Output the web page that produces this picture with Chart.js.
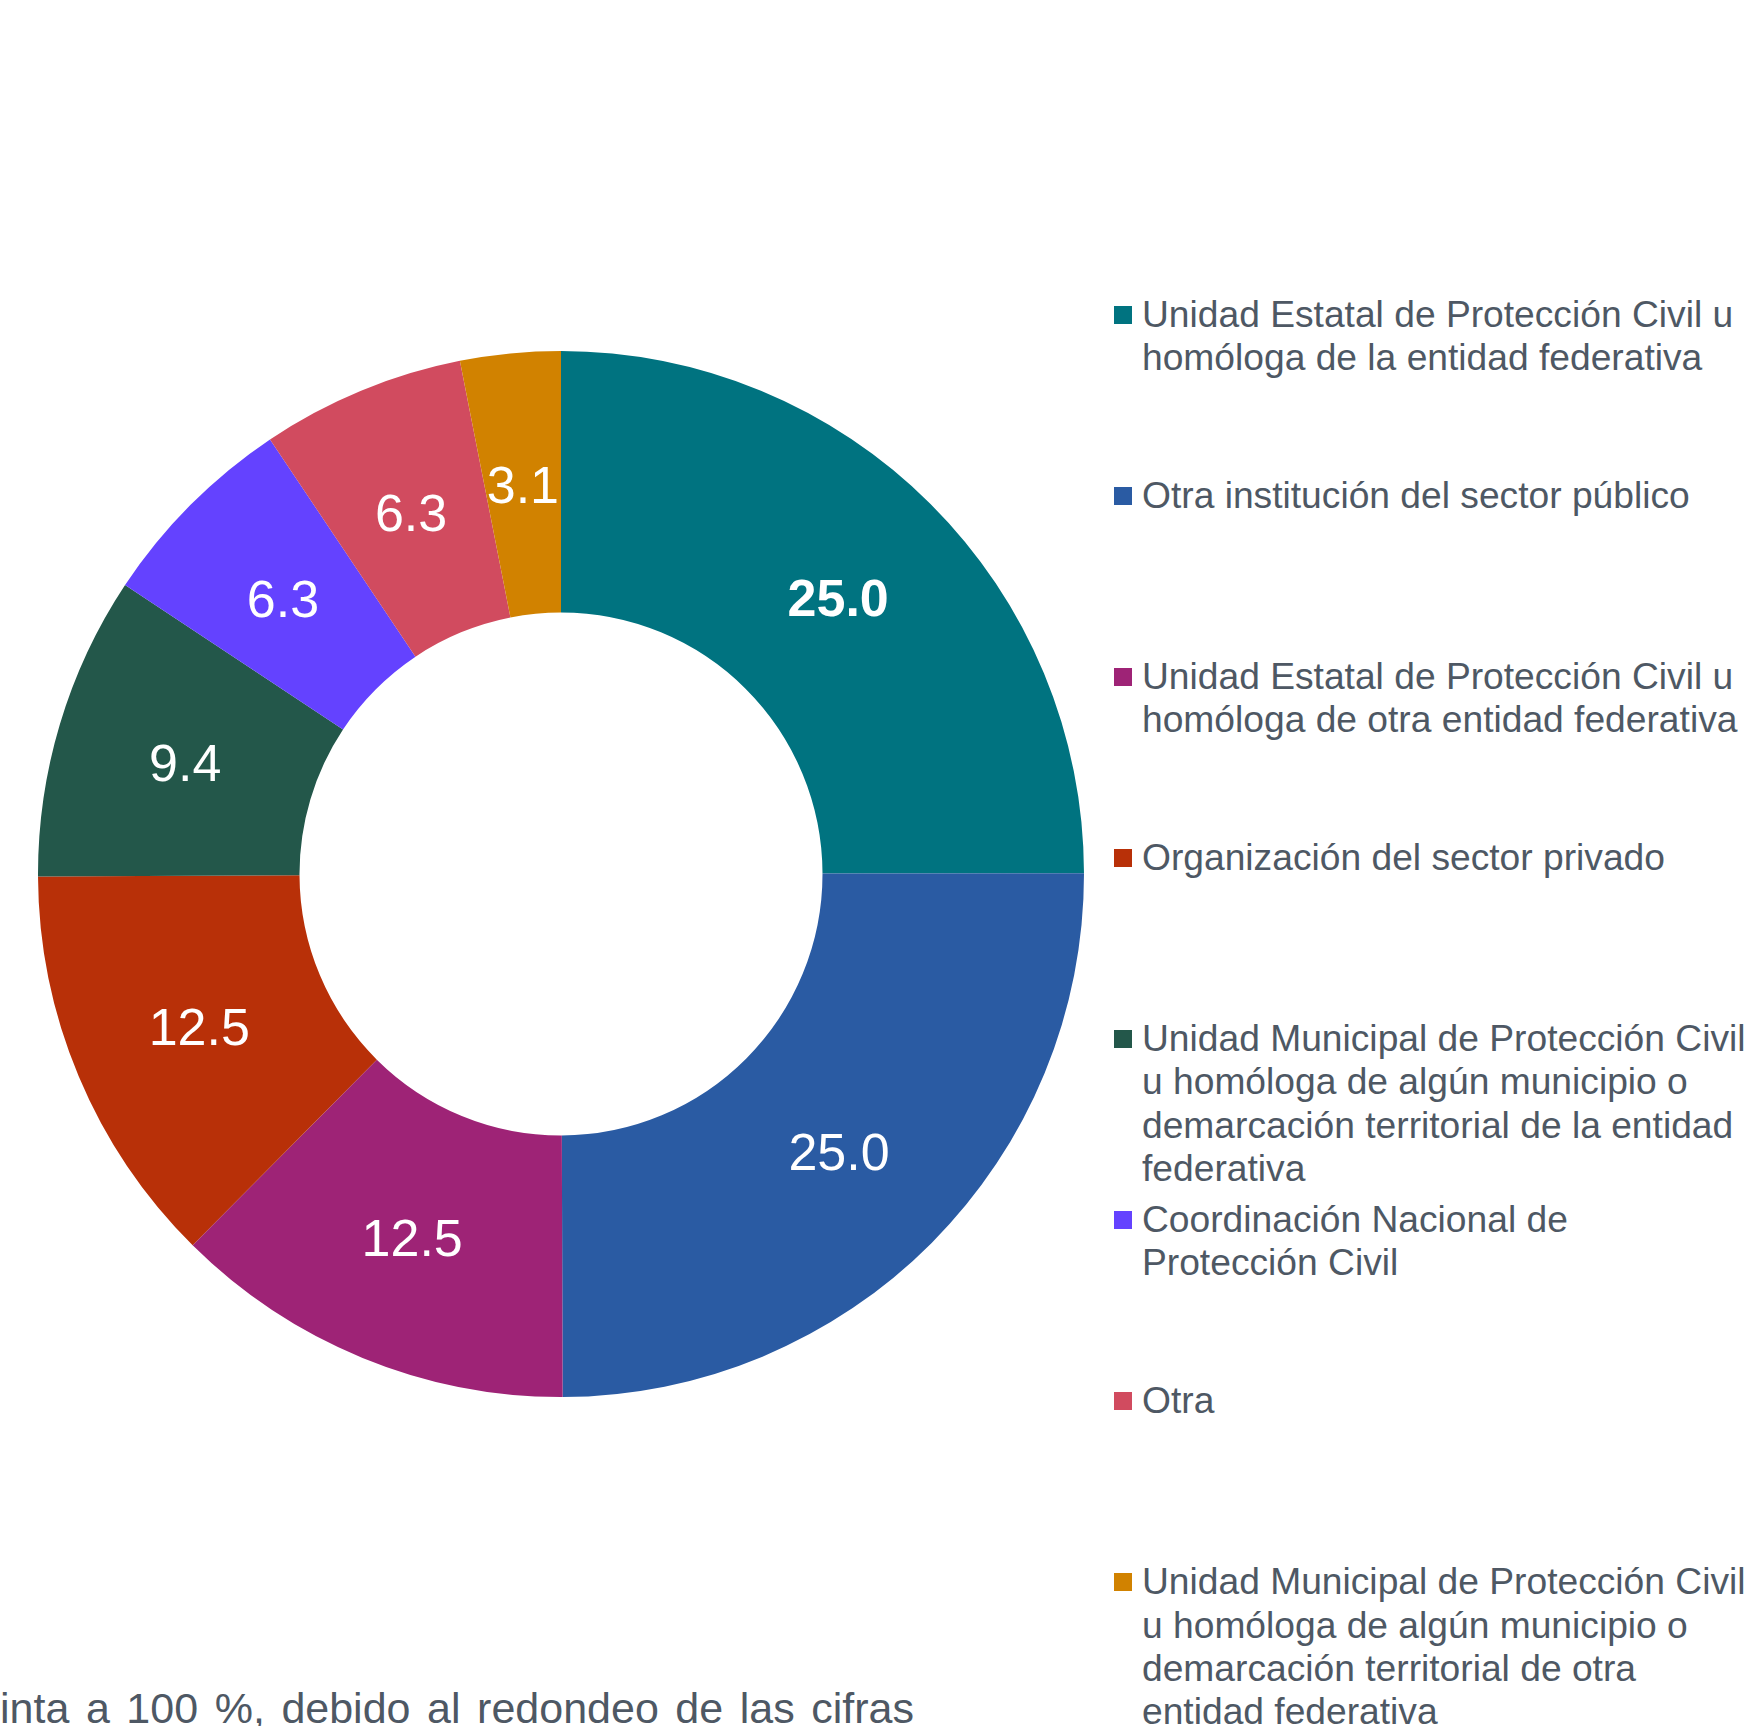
<!DOCTYPE html>
<html lang="es">
<head>
<meta charset="utf-8">
<script src="https://cdn.jsdelivr.net/npm/chart.js@4/dist/chart.umd.min.js"></script>
<style>
html,body{margin:0;padding:0;background:#fff;width:1747px;height:1726px;overflow:hidden;position:relative;font-family:"Liberation Sans",Arial,sans-serif;}
#wrap{position:absolute;left:38px;top:351px;width:1046px;height:1046px;}
#legend{position:absolute;left:1114px;top:0;width:633px;}
.item{position:absolute;left:0;width:633px;}
.item .box{position:absolute;left:0;width:18px;height:18px;}
.item .txt{position:absolute;left:28px;font-size:37.2px;line-height:43.4px;color:#4e5864;white-space:nowrap;}
#note{position:absolute;left:0;top:1687px;width:914px;font-size:43px;line-height:43px;color:#4e5864;text-align:justify;text-align-last:justify;white-space:nowrap;}
</style>
</head>
<body>
<div id="wrap"><canvas id="chart"></canvas></div>
<div id="legend"></div>
<div id="note">inta a 100 %, debido al redondeo de las cifras</div>
<script>
const CATEGORIES=[
  ['Unidad Estatal de Protección Civil u','homóloga de la entidad federativa'],
  ['Otra institución del sector público'],
  ['Unidad Estatal de Protección Civil u','homóloga de otra entidad federativa'],
  ['Organización del sector privado'],
  ['Unidad Municipal de Protección Civil','u homóloga de algún municipio o','demarcación territorial de la entidad','federativa'],
  ['Coordinación Nacional de','Protección Civil'],
  ['Otra'],
  ['Unidad Municipal de Protección Civil','u homóloga de algún municipio o','demarcación territorial de otra','entidad federativa']
];
const VALUES=[25.0,25.0,12.5,12.5,9.4,6.3,6.3,3.1];
const COLORS=['#007380','#2a5ba3','#9e2376','#b83008','#23574a','#6442ff','#d14b5f','#d18200'];
const BOLD_LABELS=[true,false,false,false,false,false,false,false];

// value labels in the middle of each ring segment
const sliceLabels={
  id:'sliceLabels',
  afterDatasetsDraw(chart){
    const {ctx}=chart;
    const meta=chart.getDatasetMeta(0);
    ctx.save();
    ctx.fillStyle='#fff';
    ctx.textAlign='center';
    ctx.textBaseline='middle';
    meta.data.forEach((arc,i)=>{
      const p=arc.getProps(['x','y','startAngle','endAngle','innerRadius','outerRadius'],true);
      const a=(p.startAngle+p.endAngle)/2;
      const r=(p.innerRadius+p.outerRadius)/2;
      ctx.font=(BOLD_LABELS[i]?'bold ':'')+'52px "Liberation Sans", Arial, sans-serif';
      ctx.fillText(VALUES[i].toFixed(1),p.x+Math.cos(a)*r,p.y+Math.sin(a)*r+5);
    });
    ctx.restore();
  }
};

function buildLegend(){
  const legend=document.getElementById('legend');
  const firstTop=292.5, step=181.1;
  CATEGORIES.forEach((lines,i)=>{
    const item=document.createElement('div');
    item.className='item';
    item.style.top=(firstTop+i*step)+'px';
    const box=document.createElement('div');
    box.className='box';
    box.style.background=COLORS[i];
    box.style.top='13px';
    const txt=document.createElement('div');
    txt.className='txt';
    txt.innerHTML=lines.join('<br>');
    item.appendChild(box);
    item.appendChild(txt);
    legend.appendChild(item);
  });
}

buildLegend();
new Chart(document.getElementById('chart').getContext('2d'),{
  type:'doughnut',
  data:{
    labels:CATEGORIES,
    datasets:[{data:VALUES,backgroundColor:COLORS,borderWidth:0}]
  },
  options:{
    responsive:true,
    maintainAspectRatio:false,
    animation:false,
    cutout:'50%',
    layout:{padding:0},
    plugins:{legend:{display:false},tooltip:{enabled:false}}
  },
  plugins:[sliceLabels]
});
</script>
</body>
</html>
